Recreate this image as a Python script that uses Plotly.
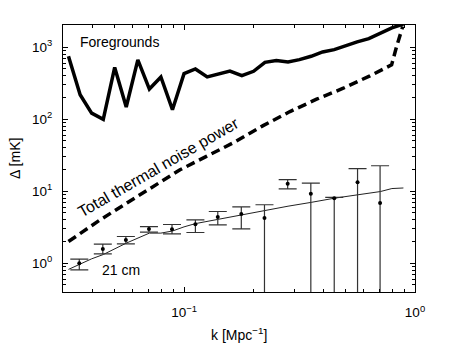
import plotly.graph_objects as go

# foreground power (thick solid)
fg_k = [0.0316, 0.0355, 0.0398, 0.0447, 0.0501, 0.0562, 0.0631, 0.0708, 0.0794, 0.0891,
        0.1, 0.112, 0.126, 0.141, 0.158, 0.178, 0.2, 0.224, 0.251, 0.282,
        0.316, 0.355, 0.398, 0.447, 0.501, 0.562, 0.631, 0.708, 0.794, 0.891]
fg_delta = [750, 219, 122, 100, 526, 148, 668, 263, 387, 136,
            431, 500, 387, 420, 468, 403, 464, 618, 653, 627,
            674, 750, 863, 929, 1056, 1190, 1321, 1585, 1860, 2100]

# total thermal noise power (thick dashed)
noise_k = [0.0316, 0.0433, 0.0565, 0.0736, 0.0961, 0.125, 0.163, 0.220, 0.2875,
           0.375, 0.489, 0.638, 0.792, 0.832, 0.885]
noise_delta = [2.0, 4.0, 6.85, 11.7, 19.9, 30.5, 46.9, 81.6, 128,
               190, 270, 401, 570, 1020, 1950]

# 21 cm model (thin line)
model_k = [0.0316, 0.0398, 0.0447, 0.0501, 0.0562, 0.0708, 0.0794, 0.0891, 0.1, 0.112,
           0.141, 0.178, 0.224, 0.282, 0.355, 0.447, 0.562, 0.708, 0.794, 0.891]
model_delta = [0.82, 1.15, 1.32, 1.6, 1.9, 2.62, 2.62, 2.8, 3.2, 3.55,
               4.1, 4.7, 5.4, 6.2, 7.0, 8.0, 8.9, 9.9, 10.9, 11.1]

# measured points with error bars (lower = 0 means the bar runs off the bottom)
pt_k = [0.0352, 0.0445, 0.056, 0.0705, 0.0887, 0.112, 0.140, 0.177, 0.223, 0.281,
        0.354, 0.447, 0.564, 0.706]
pt_delta = [1.0, 1.58, 2.11, 3.0, 2.97, 3.49, 4.37, 4.81, 4.24, 12.7,
            9.2, 8.0, 13.3, 6.85]
pt_upper = [1.14, 1.84, 2.35, 3.23, 3.45, 4.01, 5.23, 6.08, 6.49, 14.5,
            13.0, 8.2, 20.6, 22.6]
pt_lower = [0.81, 1.35, 1.86, 2.70, 2.56, 2.67, 3.41, 3.0, 0, 10.8,
            0, 0, 0, 0]

y_tickvals = [1, 10, 100, 1000]
y_ticktext = ["10<sup>0</sup>", "10<sup>1</sup>", "10<sup>2</sup>", "10<sup>3</sup>"]
x_tickvals = [0.1, 1]
x_ticktext = ["10<sup>\u22121</sup>", "10<sup>0</sup>"]

FONT = "Liberation Sans, Arial, sans-serif"

err_plus = [u - v for u, v in zip(pt_upper, pt_delta)]
err_minus = [v - l if l > 0 else v for v, l in zip(pt_delta, pt_lower)]

fig = go.Figure()
fig.add_trace(go.Scatter(x=fg_k, y=fg_delta, mode="lines",
                         line=dict(color="black", width=3.5)))
fig.add_trace(go.Scatter(x=noise_k, y=noise_delta, mode="lines",
                         line=dict(color="black", width=3.5, dash="9px,5px")))
fig.add_trace(go.Scatter(x=model_k, y=model_delta, mode="lines",
                         line=dict(color="#222", width=1)))
fig.add_trace(go.Scatter(
    x=pt_k, y=pt_delta, mode="markers",
    marker=dict(color="black", size=4),
    error_y=dict(type="data", symmetric=False, array=err_plus, arrayminus=err_minus,
                 color="#333", thickness=1.2, width=9)))

minor_vals = [m * 10 ** e for e in range(-2, 4) for m in range(2, 10)]

axis_common = dict(
    showline=True, linecolor="black", linewidth=1, mirror="allticks",
    ticks="inside", ticklen=5, tickcolor="black", tickwidth=1,
    showgrid=False, zeroline=False,
    tickfont=dict(family=FONT, size=13.5, color="black"),
)

fig.update_xaxes(type="log", range=[-1.524, 0], tickmode="array",
                 tickvals=x_tickvals, ticktext=x_ticktext, ticklabelstandoff=8,
                 minor=dict(ticks="inside", ticklen=3, tickcolor="black",
                            tickmode="array", tickvals=minor_vals),
                 **axis_common)
fig.update_yaxes(type="log", range=[-0.40, 3.31], tickmode="array",
                 tickvals=y_tickvals, ticktext=y_ticktext, ticklabelstandoff=7,
                 minor=dict(ticks="inside", ticklen=3, tickcolor="black",
                            tickmode="array", tickvals=minor_vals),
                 **axis_common)

txt = dict(family=FONT, size=14, color="black")
ann = dict(xref="paper", yref="paper", showarrow=False, xanchor="center", yanchor="middle")
fig.add_annotation(text="Foregrounds", x=0.1605, y=0.937, font=txt, **ann)
fig.add_annotation(text="Total thermal noise power", x=0.27, y=0.466, textangle=-30,
                   font=dict(family=FONT, size=16, color="black"), **ann)
fig.add_annotation(text="21 cm", x=0.165, y=0.0835, font=txt, **ann)
fig.add_annotation(text="\u0394 [mK]", x=-0.136, y=0.499, textangle=-90,
                   font=dict(family=FONT, size=14, color="black"), **ann)
fig.add_annotation(text="k [Mpc<sup>\u22121</sup>]", x=0.5, y=-0.156,
                   font=dict(family=FONT, size=14, color="black"), **ann)

# the page adds an 8px body margin, so the figure is shrunk by that much
fig.update_layout(
    width=450, height=337, showlegend=False,
    margin=dict(l=55, r=43, t=17, b=53),
    paper_bgcolor="white", plot_bgcolor="white",
)

fig.write_html("out.html")
